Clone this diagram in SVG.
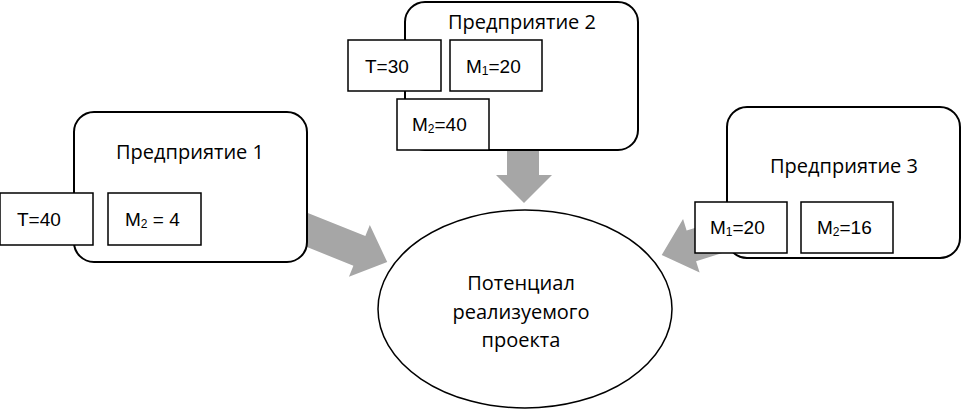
<svg xmlns="http://www.w3.org/2000/svg" width="962" height="410" viewBox="0 0 962 410">
<style>
.ent{fill:#fff;stroke:#000;stroke-width:2}
.box{fill:#fff;stroke:#000;stroke-width:1.5}
.arrow{fill:#a6a6a6;stroke:none}
.hdr{font-family:"Open Sans","Noto Sans",sans-serif;font-size:20px;fill:#000;text-anchor:middle}
.val{font-family:"Liberation Sans",Arial,sans-serif;font-size:19px;fill:#000}
.sub{font-size:12px}
.core{font-family:"Open Sans","Noto Sans",sans-serif;font-size:20px;fill:#000;text-anchor:middle}
</style>
<g id="connectors">
<polygon class="arrow" points="507,148 539,148 539,175 552,175 524,203 496,175 507,175"/>
<polygon class="arrow" transform="translate(300,227) rotate(21.9)" points="0,-16 64,-16 64,-28 94,0 64,28 64,16 0,16"/>
<polygon class="arrow" transform="translate(720,237) rotate(162.8)" points="0,-16 30,-16 30,-28 61,0 30,28 30,16 0,16"/>
</g>
<g id="enterprise1">
<rect class="ent" x="74" y="112" width="233" height="150" rx="20"/>
<text class="hdr" x="190" y="159">Предприятие 1</text>
<rect class="box" x="0" y="193" width="93" height="52"/>
<text class="val" x="17" y="226">T=40</text>
<rect class="box" x="108" y="193" width="93" height="52"/>
<text class="val" x="125" y="226">M<tspan class="sub" dy="2">2</tspan><tspan dy="-2"> = 4</tspan></text>
</g>
<g id="enterprise2">
<rect class="ent" x="405" y="2" width="233" height="148" rx="20"/>
<text class="hdr" x="522" y="29">Предприятие 2</text>
<rect class="box" x="348" y="40" width="93" height="51"/>
<text class="val" x="365" y="73">T=30</text>
<rect class="box" x="450" y="40" width="92" height="51"/>
<text class="val" x="466" y="73">M<tspan class="sub" dy="2">1</tspan><tspan dy="-2">=20</tspan></text>
<rect class="box" x="397" y="99" width="92" height="51"/>
<text class="val" x="412" y="131">M<tspan class="sub" dy="2">2</tspan><tspan dy="-2">=40</tspan></text>
</g>
<g id="enterprise3">
<rect class="ent" x="727" y="107" width="233" height="151" rx="20"/>
<text class="hdr" x="844" y="173">Предприятие 3</text>
<rect class="box" x="695" y="202" width="92" height="51"/>
<text class="val" x="710" y="234">M<tspan class="sub" dy="2">1</tspan><tspan dy="-2">=20</tspan></text>
<rect class="box" x="801" y="202" width="92" height="51"/>
<text class="val" x="817" y="234">M<tspan class="sub" dy="2">2</tspan><tspan dy="-2">=16</tspan></text>
</g>
<g id="project">
<ellipse cx="525" cy="309" rx="147" ry="99" fill="#fff" stroke="#000" stroke-width="1.5"/>
<text class="core" x="521" y="290">Потенциал</text>
<text class="core" x="521" y="319">реализуемого</text>
<text class="core" x="521" y="347">проекта</text>
</g>
</svg>
